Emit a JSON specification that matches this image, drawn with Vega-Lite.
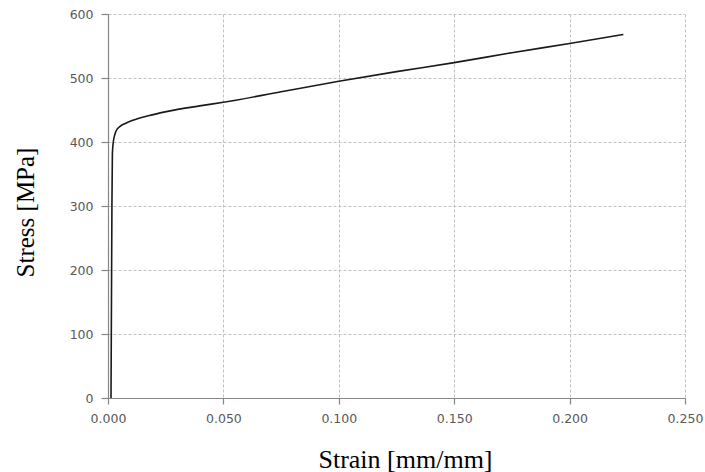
{
  "$schema": "https://vega.github.io/schema/vega-lite/v6.json",
  "autosize": "none",
  "width": 577,
  "height": 384,
  "padding": {"left": 108, "top": 14, "right": 20, "bottom": 74},
  "background": "white",
  "config": {"view": {"stroke": null}},
  "data": {"values": [
    {"strain": 0.0013, "stress": 0},
    {"strain": 0.0015, "stress": 150},
    {"strain": 0.0017, "stress": 300},
    {"strain": 0.0019, "stress": 382},
    {"strain": 0.0023, "stress": 400},
    {"strain": 0.0029, "stress": 411},
    {"strain": 0.0036, "stress": 418},
    {"strain": 0.0051, "stress": 424},
    {"strain": 0.0075, "stress": 429},
    {"strain": 0.0108, "stress": 434},
    {"strain": 0.0175, "stress": 441},
    {"strain": 0.0253, "stress": 447.5},
    {"strain": 0.0397, "stress": 456.4},
    {"strain": 0.05, "stress": 462},
    {"strain": 0.075, "stress": 478.5},
    {"strain": 0.10, "stress": 495},
    {"strain": 0.125, "stress": 510},
    {"strain": 0.15, "stress": 524},
    {"strain": 0.175, "stress": 539.5},
    {"strain": 0.20, "stress": 554},
    {"strain": 0.2233, "stress": 568}
  ]},
  "mark": {"type": "line", "color": "#1a1a1a", "strokeWidth": 1.6, "interpolate": "monotone"},
  "encoding": {
    "x": {
      "field": "strain", "type": "quantitative",
      "scale": {"domain": [0, 0.25], "nice": false, "zero": false},
      "axis": {
        "values": [0, 0.05, 0.1, 0.15, 0.2, 0.25],
        "format": ".3f",
        "title": "Strain [mm/mm]",
        "titleFont": "Liberation Serif", "titleFontSize": 26, "titleFontWeight": "normal", "titleColor": "#000000",
        "titleX": 297, "titleY": 69, "titleAlign": "center", "titleBaseline": "alphabetic",
        "labelFont": "DejaVu Sans", "labelFontSize": 12.5, "labelColor": "#595959", "labelPadding": 8,
        "labelFlush": false, "labelOverlap": false,
        "domainColor": "#868686", "domainWidth": 1.2,
        "tickColor": "#868686", "tickSize": 6, "tickWidth": 1.2,
        "grid": true, "gridColor": "#c0c0c0", "gridDash": [3, 2], "gridWidth": 1
      }
    },
    "y": {
      "field": "stress", "type": "quantitative",
      "scale": {"domain": [0, 600], "nice": false},
      "axis": {
        "values": [0, 100, 200, 300, 400, 500, 600],
        "title": "Stress [MPa]",
        "titleFont": "Liberation Serif", "titleFontSize": 25, "titleFontWeight": "normal", "titleColor": "#000000",
        "titleX": -75, "titleY": 198, "titleAngle": -90, "titleAlign": "center", "titleBaseline": "alphabetic",
        "labelFont": "DejaVu Sans", "labelFontSize": 12.5, "labelColor": "#595959", "labelPadding": 8,
        "labelFlush": false, "labelOverlap": false,
        "domainColor": "#868686", "domainWidth": 1.2,
        "tickColor": "#868686", "tickSize": 7, "tickWidth": 1.2,
        "grid": true, "gridColor": "#c0c0c0", "gridDash": [3, 2], "gridWidth": 1
      }
    }
  }
}
